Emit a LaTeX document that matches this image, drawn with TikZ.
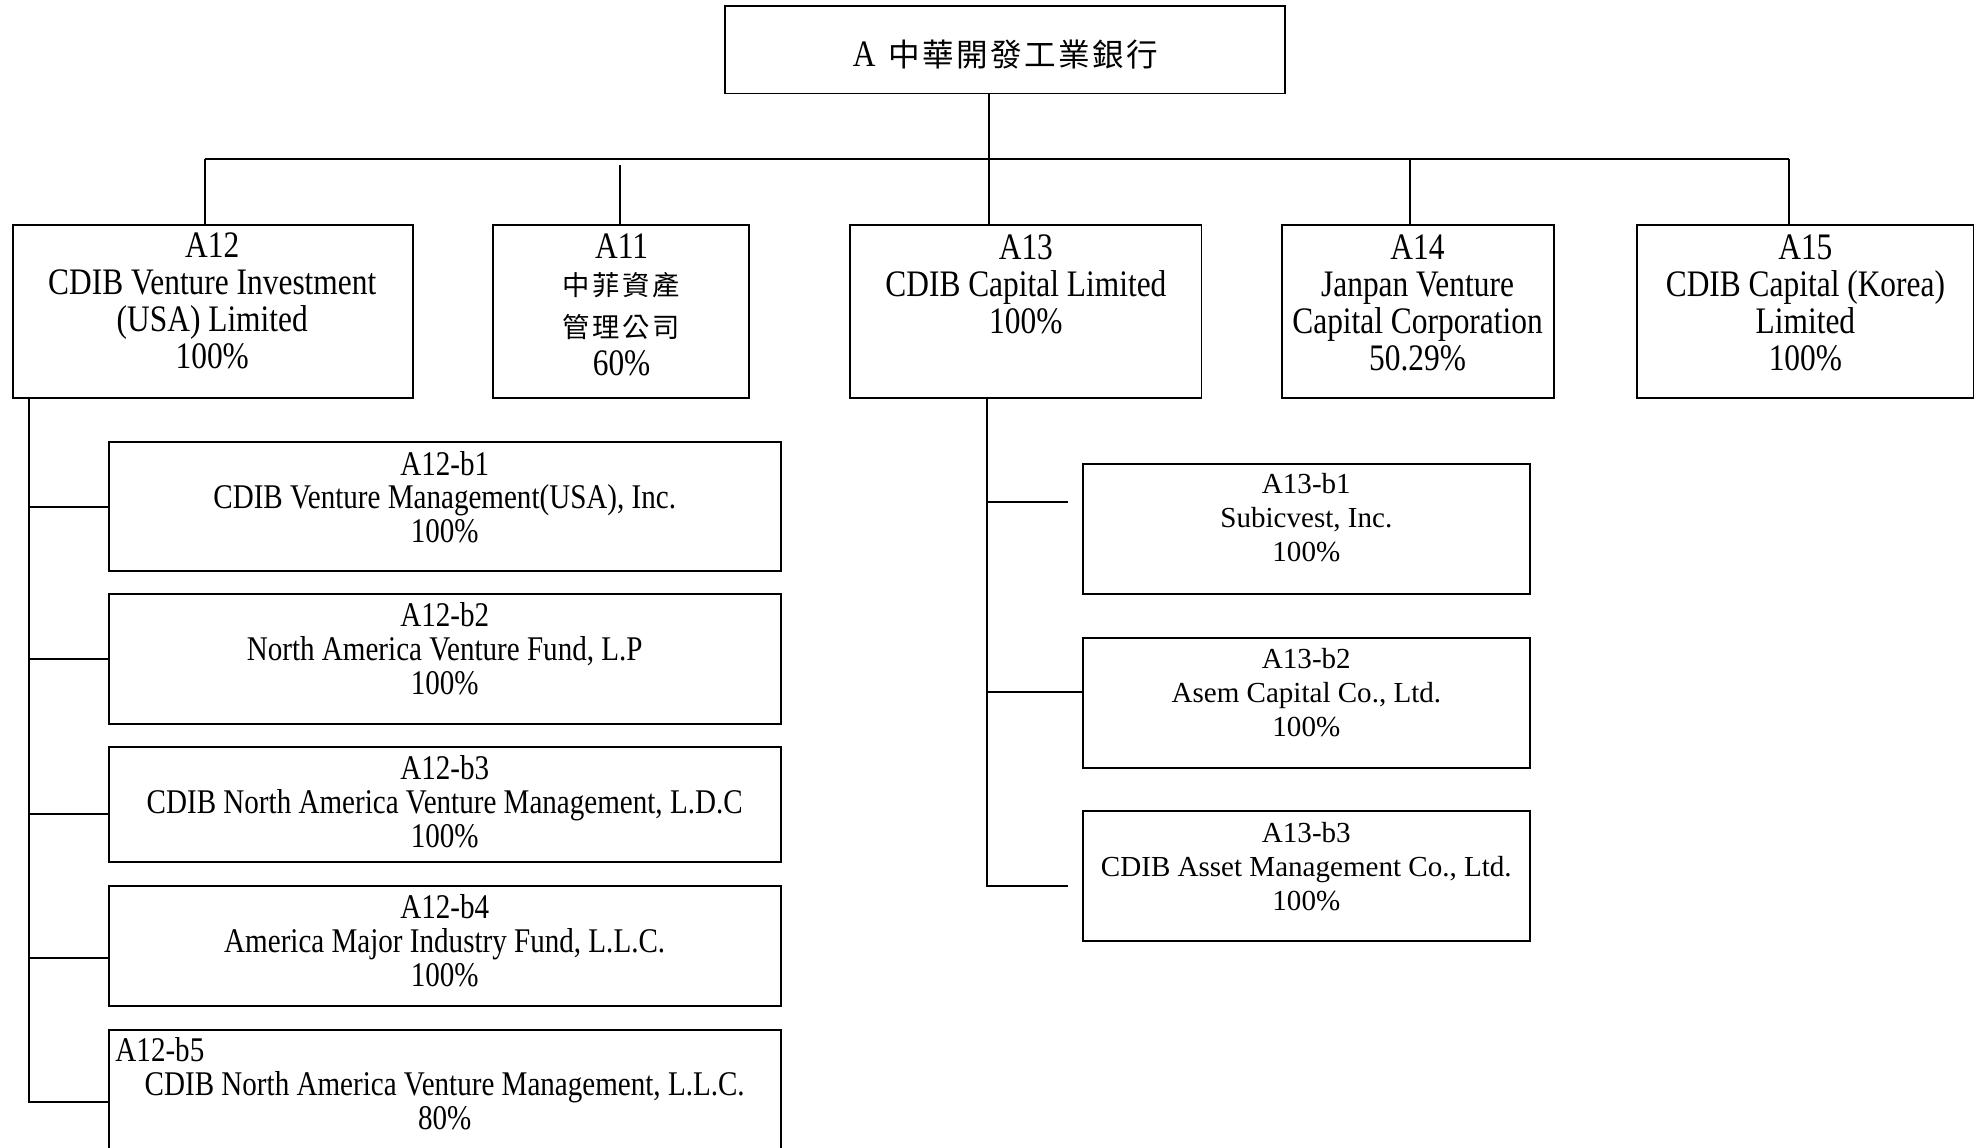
\documentclass[tikz,border=0pt]{standalone}
\usepackage{fontspec}
\setmainfont{Liberation Serif}
\newfontfamily\narrowrm{Liberation Serif}[FakeStretch=0.84]
\newfontfamily\cjk{Noto Sans CJK TC}
\begin{document}
\begin{tikzpicture}[x=0.5pt, y=-0.5pt,
    box/.style={draw, line width=0.75pt, inner sep=0pt},
    wire/.style={line width=0.75pt},
    toptext/.style={font=\narrowrm\fontsize{14.8}{14.65}\selectfont, align=center, inner sep=0pt},
    subtext/.style={font=\narrowrm\fontsize{13.7}{13.35}\selectfont, align=center, inner sep=0pt},
    rtext/.style={font=\fontsize{11.5}{13.5}\selectfont, align=center, inner sep=0pt}]
    \useasboundingbox (0,0) rectangle (1568,908);

    \node [box, minimum width=221.5pt, minimum height=34.5pt] (top) at (795.5,39.5) {};
    \node [toptext] (toplbl) at (796,43) {A\hspace{5pt}{\cjk\fontsize{12.5}{13}\addfontfeature{LetterSpace=8}中華開發工業銀行}};

    \node [box, minimum width=158.5pt, minimum height=68.5pt] (a12) at (168.5,246.5) {};
    \node [toptext] (a12lbl) at (168,238) {A12\\CDIB Venture Investment\\(USA) Limited\\100\%};
    \node [box, minimum width=101.5pt, minimum height=68.5pt] (a11) at (491.5,246.5) {};
    \node [toptext] (a11lbl) at (492,241.5) {A11\\{\cjk\fontsize{10.8}{15}\addfontfeature{LetterSpace=10}中菲資產}\\[2pt]{\cjk\fontsize{10.8}{15}\addfontfeature{LetterSpace=10}管理公司}\\[0.5pt]60\%};
    \node [box, minimum width=139pt, minimum height=68.5pt] (a13) at (812,246.5) {};
    \node [toptext] (a13lbl) at (812,225) {A13\\CDIB Capital Limited\\100\%};
    \node [box, minimum width=107.5pt, minimum height=68.5pt] (a14) at (1122.5,246.5) {};
    \node [toptext] (a14lbl) at (1122,239.5) {A14\\Janpan Venture\\Capital Corporation\\50.29\%};
    \node [box, minimum width=133pt, minimum height=68.5pt] (a15) at (1429,246.5) {};
    \node [toptext] (a15lbl) at (1429,239.5) {A15\\CDIB Capital (Korea)\\Limited\\100\%};

    \node [box, minimum width=266pt, minimum height=51pt] (a12b1) at (352,401) {};
    \node [subtext] (a12b1lbl) at (352,393.5) {A12-b1\\CDIB Venture Management(USA), Inc.\\100\%};
    \node [box, minimum width=266pt, minimum height=51.5pt] (a12b2) at (352,521.5) {};
    \node [subtext] (a12b2lbl) at (352,513.5) {A12-b2\\North America Venture Fund, L.P\\100\%};
    \node [box, minimum width=266pt, minimum height=45.5pt] (a12b3) at (352,636.5) {};
    \node [subtext] (a12b3lbl) at (352,634.5) {A12-b3\\CDIB North America Venture Management, L.D.C\\100\%};
    \node [box, minimum width=266pt, minimum height=47.5pt] (a12b4) at (352,748.5) {};
    \node [subtext] (a12b4lbl) at (352,744.5) {A12-b4\\America Major Industry Fund, L.L.C.\\100\%};
    \node [box, minimum width=266pt, minimum height=55pt] (a12b5) at (352,870) {};
    \node [subtext, anchor=west] (a12b5id) at (91,831) {A12-b5};
    \node [subtext] (a12b5lbl) at (352,871.5) {CDIB North America Venture Management, L.L.C.\\80\%};

    \node [box, minimum width=177pt, minimum height=51.5pt] (a13b1) at (1034,418.5) {};
    \node [rtext] (a13b1lbl) at (1034,410) {A13-b1\\Subicvest, Inc.\\100\%};
    \node [box, minimum width=177pt, minimum height=51.5pt] (a13b2) at (1034,556.5) {};
    \node [rtext] (a13b2lbl) at (1034,548) {A13-b2\\Asem Capital Co., Ltd.\\100\%};
    \node [box, minimum width=177pt, minimum height=51.5pt] (a13b3) at (1034,693.5) {};
    \node [rtext] (a13b3lbl) at (1034,686) {A13-b3\\CDIB Asset Management Co., Ltd.\\100\%};

    \coordinate (d12) at (162,126);
    \coordinate (d11) at (491,131);
    \coordinate (d13) at (783,126);
    \coordinate (d14) at (1116,126);
    \coordinate (d15) at (1416,126);
    \draw [wire] (d12) -- (d15);
    \draw [wire] (top.south -| d13) -- (d13);
    \foreach \d/\n in {d12/a12, d11/a11, d13/a13, d14/a14, d15/a15}
        \draw [wire] (\d) -- (\d |- \n.north);

    \coordinate (sp12) at (23,315);
    \foreach \n/\s in {a12b1/0pt, a12b2/0pt, a12b3/-3.75pt, a12b4/-4.75pt, a12b5/-1pt}
        \draw [wire] ([yshift=\s]\n.west) -| (sp12);

    \coordinate (sp13) at (781,315);
    \draw [wire] ([xshift=-5.5pt, yshift=10.75pt]a13b1.west) -| (sp13);
    \draw [wire] ([yshift=4.25pt]a13b2.west) -| (sp13);
    \draw [wire] ([xshift=-5.5pt, yshift=-3.75pt]a13b3.west) -| (sp13);
\end{tikzpicture}
\end{document}
